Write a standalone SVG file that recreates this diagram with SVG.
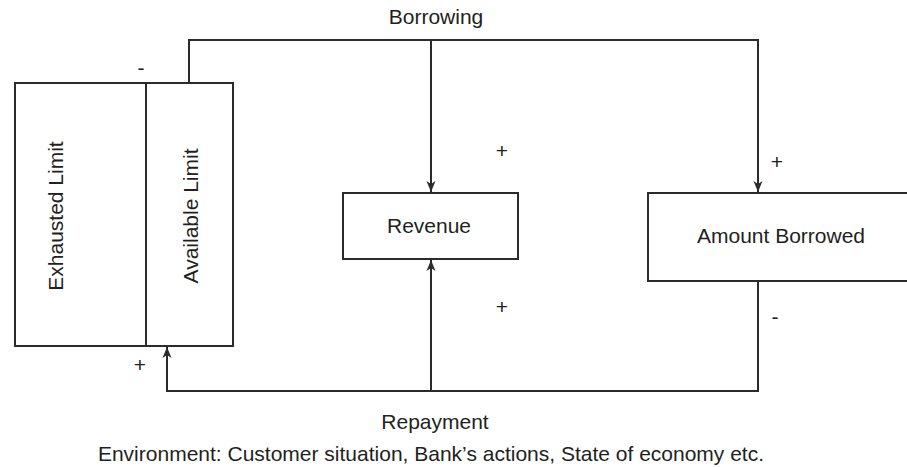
<svg xmlns="http://www.w3.org/2000/svg" width="907" height="467" viewBox="0 0 907 467">
<style>
text{font-family:"Liberation Sans",Arial,sans-serif;font-size:21px;fill:#231f20}
.box{fill:#fff;stroke:#2b2b2b;stroke-width:2}
.ln{fill:none;stroke:#2b2b2b;stroke-width:2}
.mid{text-anchor:middle}
</style>
<defs>
<marker id="ah" markerWidth="12" markerHeight="12" viewBox="0 0 12 12" refX="11" refY="6" orient="auto" markerUnits="userSpaceOnUse">
<path d="M0,1.5 L11,6 L0,10.5 L3,6 Z" fill="#2b2b2b"/>
</marker>
</defs>
<rect width="907" height="467" fill="#fff"/>
<g id="limits">
<rect class="box" x="15" y="83" width="218" height="263"/>
<line class="ln" x1="146" y1="83" x2="146" y2="346"/>
<text class="mid" transform="translate(63,216) rotate(-90)">Exhausted Limit</text>
<text class="mid" transform="translate(198,216) rotate(-90)">Available Limit</text>
</g>
<g id="revenue">
<rect class="box" x="343" y="193" width="175" height="66"/>
<text class="mid" x="429" y="233">Revenue</text>
</g>
<g id="amount-borrowed">
<rect class="box" x="648" y="193" width="270" height="88"/>
<text class="mid" x="781" y="243">Amount Borrowed</text>
</g>
<g id="connectors">
<path class="ln" d="M189,83 V40 H758 V192" marker-end="url(#ah)"/>
<path class="ln" d="M431,40 V192" marker-end="url(#ah)"/>
<path class="ln" d="M758,281 V391 H167 V347" marker-end="url(#ah)"/>
<path class="ln" d="M431,391 V260" marker-end="url(#ah)"/>
</g>
<g id="labels">
<text class="mid" x="436" y="24">Borrowing</text>
<text class="mid" x="435" y="429">Repayment</text>
<text class="mid" x="431" y="461">Environment: Customer situation, Bank’s actions, State of economy etc.</text>
<text class="mid" x="141" y="75">-</text>
<text class="mid" x="502" y="158">+</text>
<text class="mid" x="777" y="169">+</text>
<text class="mid" x="502" y="314">+</text>
<text class="mid" x="775" y="324">-</text>
<text class="mid" x="140" y="372">+</text>
</g>
</svg>
